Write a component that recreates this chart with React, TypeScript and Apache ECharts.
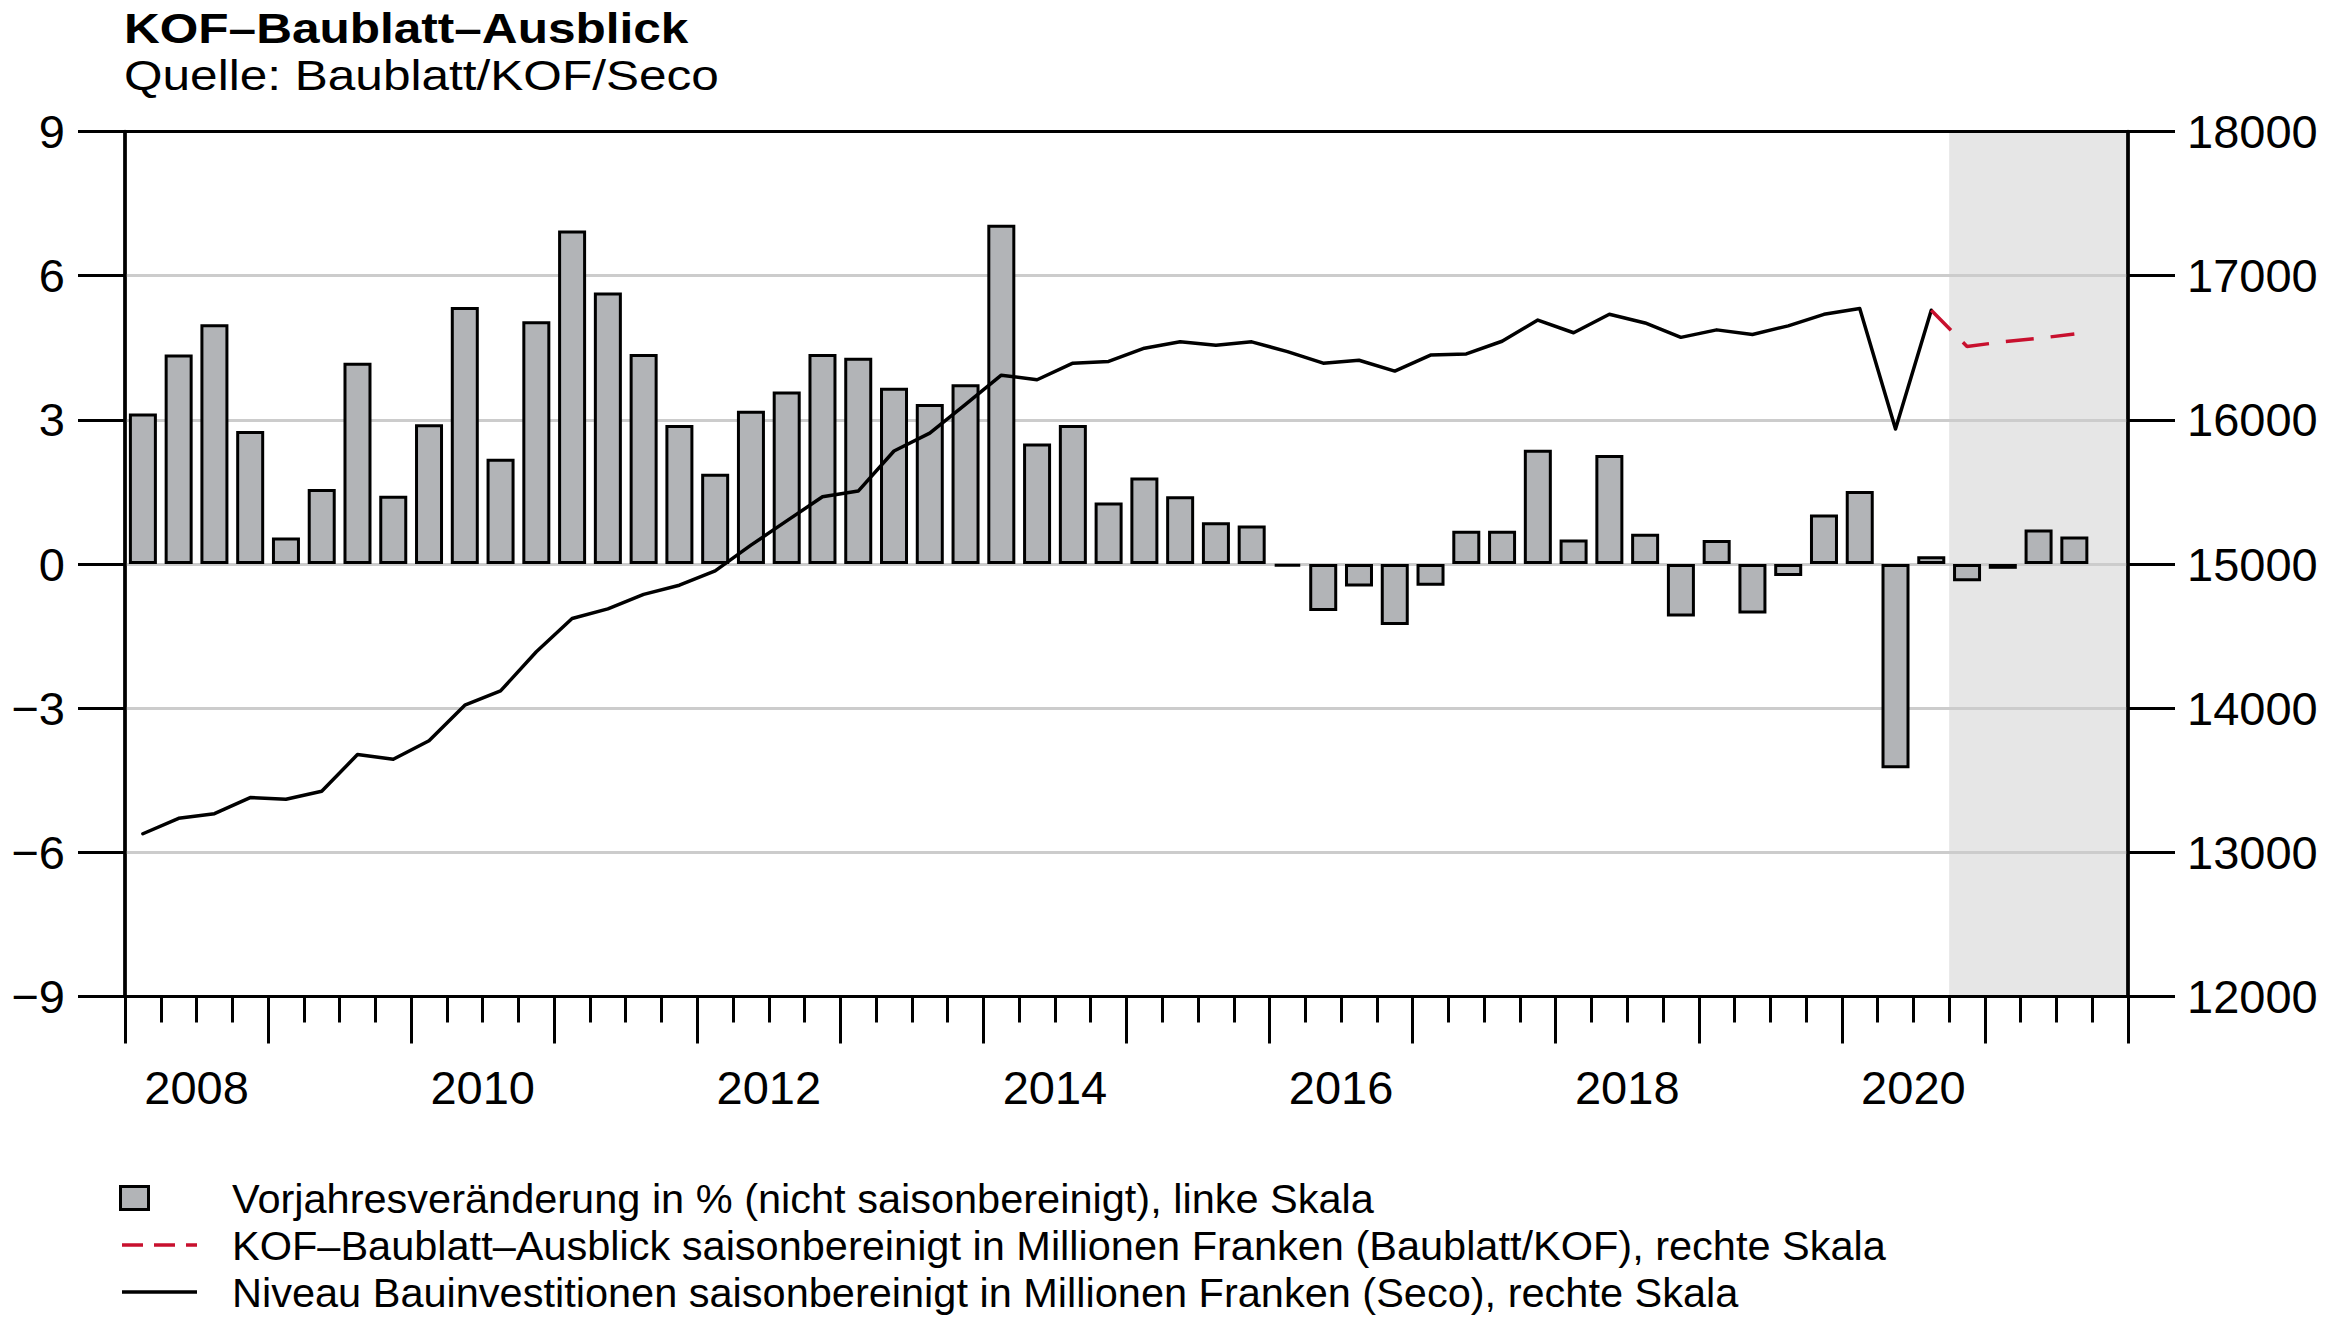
import React, { useEffect, useRef } from "react";
import * as echarts from "echarts";

const FONT = '"Liberation Sans", Arial, Helvetica, sans-serif';

const years: number[] = [2008, 2009, 2010, 2011, 2012, 2013, 2014, 2015, 2016, 2017, 2018, 2019, 2020, 2021];
const quarterNames: string[] = ["Q1", "Q2", "Q3", "Q4"];
const quarters: string[] = years.flatMap((y) => quarterNames.map((q) => `${y}${q}`));

// Vorjahresveränderung in % (nicht saisonbereinigt), linke Skala – from 2008Q1
const yoyChange: number[] = [
  3.13, 4.36, 4.99, 2.77,
  0.55, 1.56, 4.19, 1.42,
  2.91, 5.35, 2.19, 5.05,
  6.94, 5.65, 4.37, 2.89,
  1.88, 3.19, 3.59, 4.37,
  4.29, 3.67, 3.33, 3.74,
  7.06, 2.51, 2.89, 1.28,
  1.8, 1.41, 0.87, 0.8,
  -0.05, -0.98, -0.47, -1.27,
  -0.45, 0.69, 0.69, 2.38,
  0.51, 2.27, 0.63, -1.09,
  0.5, -1.03, -0.25, 1.03,
  1.52, -4.25, 0.16, -0.36,
  -0.1, 0.72, 0.57,
];

// Niveau Bauinvestitionen (Seco), rechte Skala – from 2008Q1 to 2020Q3
const niveauSeco: number[] = [
  13129, 13236, 13268, 13380,
  13368, 13424, 13678, 13646,
  13774, 14021, 14120, 14391,
  14622, 14689, 14789, 14853,
  14952, 15131, 15299, 15466,
  15506, 15784, 15908, 16107,
  16310, 16278, 16393, 16405,
  16497, 16541, 16517, 16541,
  16473, 16393, 16413, 16338,
  16449, 16457, 16545, 16692,
  16604, 16732, 16672, 16572,
  16624, 16592, 16652, 16732,
  16772, 15936, 16760,
];

// KOF-Baublatt-Ausblick, rechte Skala – from 2020Q3
const ausblickStart = "2020Q3";
const ausblickKof: number[] = [16760, 16509, 16541, 16565, 16596];

const forecastStart = "2020Q4";
const yearTickLabels: string[] = ["2008", "2010", "2012", "2014", "2016", "2018", "2020"];
const leftTicks = { min: -9, max: 9, interval: 3 };
const rightTicks = { min: 12000, max: 18000, interval: 1000 };

const titleText = "KOF–Baublatt–Ausblick";
const subtitleText = "Quelle: Baublatt/KOF/Seco";
const legendBar = "Vorjahresveränderung in % (nicht saisonbereinigt), linke Skala";
const legendKof = "KOF–Baublatt–Ausblick saisonbereinigt in Millionen Franken (Baublatt/KOF), rechte Skala";
const legendSeco = "Niveau Bauinvestitionen saisonbereinigt in Millionen Franken (Seco), rechte Skala";

const BAR_FILL = "#b2b4b7";
const RED = "#c8102e";

const fmtSigned = (v: number) => (v < 0 ? "−" + String(Math.abs(v)) : String(v));

export default function App() {
  const ref = useRef<HTMLDivElement>(null);

  useEffect(() => {
    if (!ref.current) return;
    const chart = echarts.init(ref.current, undefined, { renderer: "svg" });

    const secoData = quarters.map((_, i) => (i < niveauSeco.length ? niveauSeco[i] : null));
    const kofIdx = quarters.indexOf(ausblickStart);
    const kofData = quarters.map((_, i) =>
      i >= kofIdx && i - kofIdx < ausblickKof.length ? ausblickKof[i - kofIdx] : null
    );
    const fcIdx = quarters.indexOf(forecastStart);
    const nQ = quarters.length;
    const baseYear = years[0];

    const axisLabelStyle = { fontSize: 47, color: "#000", fontFamily: FONT };

    const option: any = {
      animation: false,
      grid: {
        left: 125,
        right: 198,
        top: 131.5,
        bottom: 327.5,
        show: true,
        borderColor: "#000",
        borderWidth: 3,
        backgroundColor: "transparent",
        containLabel: false,
        outerBoundsMode: "none",
      },
      xAxis: [
        {
          type: "category",
          data: quarters,
          boundaryGap: true,
          position: "bottom",
          axisLine: { show: true, onZero: false, lineStyle: { color: "#000", width: 3 } },
          axisTick: { show: true, interval: 0, length: 26, lineStyle: { color: "#000", width: 3 } },
          axisLabel: { show: false },
          splitLine: { show: false },
        },
        {
          type: "value",
          min: 0,
          max: nQ,
          interval: 4,
          position: "bottom",
          axisLine: { show: false, onZero: false },
          axisTick: { show: true, length: 47, lineStyle: { color: "#000", width: 3 } },
          axisLabel: { show: false },
          splitLine: { show: false },
        },
        {
          type: "value",
          min: 0,
          max: nQ,
          interval: 2,
          position: "bottom",
          axisLine: { show: false, onZero: false },
          axisTick: { show: false },
          axisLabel: {
            show: true,
            margin: 67,
            ...axisLabelStyle,
            formatter: (v: number) => {
              const yr = baseYear + (v - 2) / 4;
              const s = String(yr);
              return Number.isInteger(yr) && yearTickLabels.includes(s) ? s : "";
            },
          },
          splitLine: { show: false },
        },
      ],
      yAxis: [
        {
          type: "value",
          ...leftTicks,
          position: "left",
          axisLine: { show: true, onZero: false, lineStyle: { color: "#000", width: 3.5 } },
          axisTick: { show: true, length: 47, lineStyle: { color: "#000", width: 3 } },
          axisLabel: {
            margin: 60,
            ...axisLabelStyle,
            formatter: (v: number) => fmtSigned(v),
          },
          splitLine: {
            show: true,
            showMinLine: false,
            showMaxLine: false,
            lineStyle: { color: "#cccccc", width: 3 },
          },
        },
        {
          type: "value",
          ...rightTicks,
          position: "right",
          axisLine: { show: true, onZero: false, lineStyle: { color: "#000", width: 3.5 } },
          axisTick: { show: true, length: 47, lineStyle: { color: "#000", width: 3 } },
          axisLabel: { margin: 59, ...axisLabelStyle, formatter: (v: number) => String(v) },
          splitLine: { show: false },
        },
      ],
      series: [
        {
          type: "line",
          name: "Prognosezeitraum",
          xAxisIndex: 1,
          yAxisIndex: 0,
          z: -1,
          silent: true,
          symbol: "none",
          lineStyle: { opacity: 0 },
          data: [
            [fcIdx, 0],
            [nQ, 0],
          ],
          markArea: {
            silent: true,
            z: -1,
            itemStyle: { color: "#e6e6e6" },
            data: [[{ xAxis: fcIdx }, { xAxis: nQ }]],
          },
        },
        {
          type: "bar",
          name: legendBar,
          xAxisIndex: 0,
          yAxisIndex: 0,
          data: yoyChange,
          barWidth: 28,
          itemStyle: { color: BAR_FILL, borderColor: "#000", borderWidth: 3 },
          z: 2,
        },
        {
          type: "line",
          name: legendSeco,
          xAxisIndex: 0,
          yAxisIndex: 1,
          data: secoData,
          symbol: "none",
          connectNulls: false,
          lineStyle: { color: "#000", width: 3.5, join: "round", cap: "round" },
          z: 3,
        },
        {
          type: "line",
          name: legendKof,
          xAxisIndex: 0,
          yAxisIndex: 1,
          data: kofData,
          symbol: "none",
          lineStyle: { color: RED, width: 3.5, type: [28, 17] },
          z: 3,
        },
      ],
      graphic: [
        {
          type: "text",
          x: 124,
          y: 28,
          scaleX: 1.18,
          style: {
            text: titleText,
            fontSize: 42,
            fontWeight: "bold",
            fontFamily: FONT,
            fill: "#000",
            verticalAlign: "middle",
            align: "left",
          },
        },
        {
          type: "text",
          x: 124,
          y: 75,
          scaleX: 1.18,
          style: {
            text: subtitleText,
            fontSize: 42,
            fontFamily: FONT,
            fill: "#000",
            verticalAlign: "middle",
            align: "left",
          },
        },
        {
          type: "rect",
          shape: { x: 120.5, y: 1186.5, width: 28, height: 23 },
          style: { fill: BAR_FILL, stroke: "#000", lineWidth: 3 },
        },
        {
          type: "line",
          shape: { x1: 122, y1: 1245, x2: 197, y2: 1245 },
          style: { stroke: RED, lineWidth: 3.5, lineDash: [21, 11] },
        },
        {
          type: "line",
          shape: { x1: 122, y1: 1292, x2: 197, y2: 1292 },
          style: { stroke: "#000", lineWidth: 3.5 },
        },
        {
          type: "text",
          x: 232,
          y: 1198,
          style: { text: legendBar, fontSize: 41.5, fontFamily: FONT, fill: "#000", verticalAlign: "middle" },
        },
        {
          type: "text",
          x: 232,
          y: 1245,
          style: { text: legendKof, fontSize: 41.5, fontFamily: FONT, fill: "#000", verticalAlign: "middle" },
        },
        {
          type: "text",
          x: 232,
          y: 1292,
          style: { text: legendSeco, fontSize: 41.5, fontFamily: FONT, fill: "#000", verticalAlign: "middle" },
        },
      ],
    };

    chart.setOption(option);
    return () => chart.dispose();
  }, []);

  return (
    <div
      ref={ref}
      style={{ position: "absolute", left: 0, top: 0, width: 2326, height: 1324, background: "#fff" }}
    />
  );
}
